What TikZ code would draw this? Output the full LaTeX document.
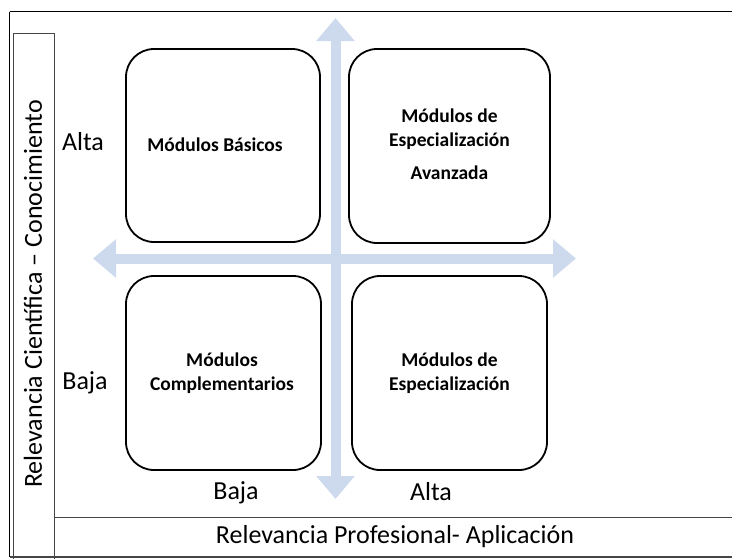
\documentclass[tikz,border=0pt]{standalone}
\usepackage{fontspec}
\setmainfont{Carlito}
\usetikzlibrary{arrows.meta}
\definecolor{axisblue}{RGB}{205,218,238}
\definecolor{framegray}{RGB}{70,70,70}
\tikzset{
  quad/.style={draw=black, line width=1.8pt, rounded corners=28pt, inner sep=0pt},
  boxtext/.style={font=\fontsize{19.5}{23.5}\selectfont\bfseries, align=center},
  axislabel/.style={font=\fontsize{26}{30}\selectfont, inner sep=0pt},
  axisarrow/.style={draw=axisblue, line width=10pt, {Triangle[width=37pt,length=23pt]}-{Triangle[width=37pt,length=23pt]}}
}
\begin{document}
\begin{tikzpicture}[x=1pt,y=-1pt]
\useasboundingbox (0,0) rectangle (732,558);
\fill[white] (0,0) rectangle (732,558);
% outer frame
\draw[black, line width=1.8pt] (9.5,11.5) -- (745,11.5);
\draw[black, line width=1.8pt] (9.5,11.5) -- (9.5,557);
\draw[framegray, line width=1.2pt] (9.5,557) -- (745,557);
% left label box
\draw[framegray, line width=0.8pt] (13,33) rectangle (54,560);
% bottom label box
\draw[framegray, line width=1pt] (54,517) -- (745,517);
% quadrant boxes
\draw[quad] (126,49) rectangle (320,242);
\draw[quad] (349,49) rectangle (550,243);
\draw[quad] (126,276) rectangle (321,470);
\draw[quad] (352,276) rectangle (547,470);
% axes
\coordinate (vtop) at (335.5,18);
\coordinate (vbot) at (335.5,499);
\coordinate (hleft) at (93,258.5);
\coordinate (hright) at (576,258.5);
\draw[axisarrow] (vbot) -- (vtop);
\draw[axisarrow] (hleft) -- (hright);
% box texts
\node[boxtext] (tl) at (215,145) {Módulos Básicos};
\node[boxtext, align=center] (tr1) at (449.5,129) {Módulos de\\Especialización};
\node[boxtext] (tr2) at (449.5,173) {Avanzada};
\node[boxtext] (bl) at (222,373) {Módulos\\Complementarios};
\node[boxtext] (br) at (449.5,373) {Módulos de\\Especialización};
% axis labels
\node[axislabel] (altaL) at (83,142) {Alta};
\node[axislabel] (bajaL) at (85,383) {Baja};
\node[axislabel] (bajaB) at (236,493) {Baja};
\node[axislabel] (altaB) at (431,492) {Alta};
\node[axislabel] (xlab) at (395,537) {Relevancia Profesional- Aplicación};
\node[axislabel, rotate=90] (ylab) at (33,294) {Relevancia Científica – Conocimiento};
\end{tikzpicture}
\end{document}
